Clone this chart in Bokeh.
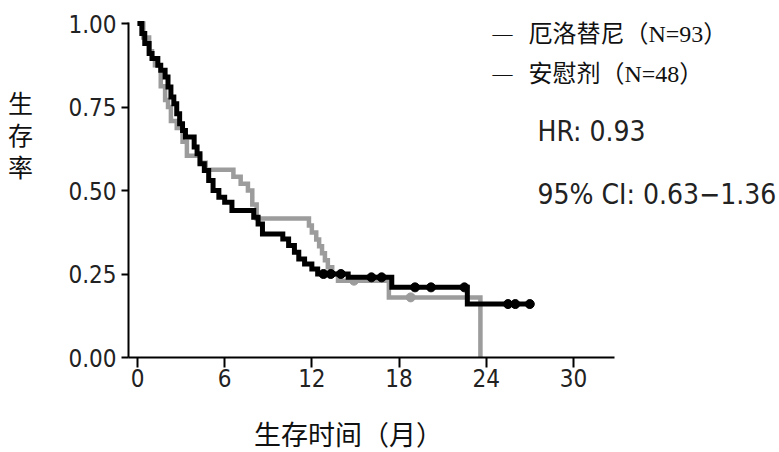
import numpy as np
from bokeh.plotting import figure
from bokeh.models import FixedTicker, Label, Range1d
from bokeh.embed import file_html
from bokeh.resources import INLINE

# ---- data ----
series_names = ["厄洛替尼（N=93）", "安慰剂（N=48）"]

erl_time = [0.0, 0.3, 0.5, 0.8, 1.0, 1.4, 1.6, 1.9, 2.1, 2.3, 2.5, 2.7, 2.9, 3.1, 3.3,
            3.9, 4.1, 4.3, 4.6, 4.9, 5.2, 5.6, 6.0, 6.5, 8.0, 8.3, 8.6, 10.0, 10.4,
            10.8, 11.1, 11.5, 12.0, 12.4, 14.5, 17.5, 22.7]
erl_surv = [1.0, 0.97, 0.94, 0.91, 0.895, 0.875, 0.86, 0.84, 0.81, 0.78, 0.76, 0.73, 0.70,
            0.68, 0.66, 0.63, 0.61, 0.58, 0.56, 0.53, 0.50, 0.48, 0.465, 0.44, 0.42, 0.40,
            0.37, 0.355, 0.335, 0.315, 0.295, 0.28, 0.265, 0.25, 0.24, 0.21, 0.16]
erl_end = 27.0
erl_censor = [12.8, 13.3, 14.0, 16.1, 16.8, 19.1, 20.2, 22.5, 25.5, 26.0, 27.0]

pla_time = [0.0, 0.4, 0.8, 1.0, 1.2, 1.6, 1.9, 2.1, 2.3, 2.7, 3.1, 3.4, 4.3, 4.7, 6.6,
            7.1, 7.6, 7.9, 8.2, 11.8, 12.0, 12.3, 12.5, 12.7, 12.9, 13.1, 13.4, 13.8,
            17.3, 23.6]
pla_surv = [1.0, 0.958, 0.917, 0.896, 0.875, 0.812, 0.771, 0.75, 0.708, 0.687, 0.646,
            0.604, 0.583, 0.562, 0.541, 0.52, 0.50, 0.458, 0.416, 0.395, 0.374, 0.353,
            0.333, 0.312, 0.291, 0.27, 0.25, 0.23, 0.18, 0.0]
pla_censor = [14.9, 18.8]

x_ticks = [0, 6, 12, 18, 24, 30]
y_ticks = [0.0, 0.25, 0.5, 0.75, 1.0]
y_tick_labels = ["0.00", "0.25", "0.50", "0.75", "1.00"]

hr_text = "HR: 0.93"
ci_text = "95% CI: 0.63\u22121.36"
x_title = "生存时间（月）"
y_title = "生\n存\n率"


def surv_at(times, survs, t):
    i = int(np.searchsorted(np.array(times), t, side="right")) - 1
    return survs[i]


NARROW = "DejaVu Sans Condensed, Liberation Sans Narrow, sans-serif"
SERIF = "Liberation Serif, Noto Sans CJK SC, serif"

W, H = 779, 452
PX_X = 14.53      # pixels per month
PX_Y = 334.0      # pixels per unit survival
X0, Y0 = 137, 357 # pixel position of (0, 0)
p = figure(width=W, height=H, output_backend="svg", toolbar_location=None,
           x_range=Range1d(-X0 / PX_X, (W - X0) / PX_X),
           y_range=Range1d((Y0 - H) / PX_Y, Y0 / PX_Y),
           min_border=0)
p.outline_line_color = None
p.grid.grid_line_color = None
p.background_fill_color = "white"
p.border_fill_color = "white"

# placebo (grey) first, erlotinib (black) on top
p.step(pla_time, pla_surv, mode="after", line_color="#9c9c9c", line_width=4.5,
       line_join="miter")
p.scatter(pla_censor, [surv_at(pla_time, pla_surv, t) for t in pla_censor],
          size=9, color="#9c9c9c")

p.step(erl_time + [erl_end], erl_surv + [erl_surv[-1]], mode="after",
       line_color="black", line_width=5, line_join="miter")
p.scatter(erl_censor, [surv_at(erl_time, erl_surv, t) for t in erl_censor],
          size=9, color="black")

# axes (drawn at fixed positions inside the full-canvas frame)
x_axis_start = -0.62
x_axis_end = 32.83
for ax in (p.xaxis[0], p.yaxis[0]):
    ax.axis_line_width = 2
    ax.axis_line_color = "black"
    ax.major_tick_line_width = 2
    ax.major_tick_line_color = "black"
    ax.minor_tick_line_color = None
    ax.major_label_text_font = NARROW
    ax.major_label_text_font_size = "24px"
    ax.major_label_text_color = "#222222"

p.xaxis.fixed_location = 0.0
p.xaxis.ticker = FixedTicker(ticks=x_ticks)
p.xaxis.bounds = (x_axis_start, x_axis_end)
p.xaxis.major_tick_out = 10
p.xaxis.major_tick_in = 0
p.xaxis.major_label_standoff = 1

p.yaxis.fixed_location = x_axis_start
p.yaxis.ticker = FixedTicker(ticks=y_ticks)
p.yaxis.bounds = (0.0, 1.003)
p.yaxis.major_label_overrides = {t: s for t, s in zip(y_ticks, y_tick_labels)}
p.yaxis.major_tick_out = 7
p.yaxis.major_tick_in = 0
p.yaxis.major_label_standoff = 5

# axis titles
p.add_layout(Label(x=(20 - X0) / PX_X, y=(Y0 - 136) / PX_Y, text=y_title,
                   text_align="center", text_baseline="middle", text_font=SERIF,
                   text_font_size="25px", text_color="#111111"))
p.add_layout(Label(x=(348 - X0) / PX_X, y=(Y0 - 435) / PX_Y, text=x_title,
                   text_align="center", text_baseline="middle", text_font=SERIF,
                   text_font_size="27px", text_color="#111111"))

# legend-like texts
for py, name in zip([33, 73], series_names):
    p.add_layout(Label(x=(492 - X0) / PX_X, y=(Y0 - py) / PX_Y, text="\u2014",
                       text_align="left", text_baseline="middle", text_font=SERIF,
                       text_font_size="20px", text_color="#111111"))
    p.add_layout(Label(x=(528 - X0) / PX_X, y=(Y0 - py) / PX_Y, text=name,
                       text_align="left", text_baseline="middle", text_font=SERIF,
                       text_font_size="24px", text_color="#111111"))
p.add_layout(Label(x=(537 - X0) / PX_X, y=(Y0 - 131) / PX_Y, text=hr_text,
                   text_align="left", text_baseline="middle", text_font=NARROW,
                   text_font_size="28px", text_color="#222222"))
p.add_layout(Label(x=(537 - X0) / PX_X, y=(Y0 - 194) / PX_Y, text=ci_text,
                   text_align="left", text_baseline="middle", text_font=NARROW,
                   text_font_size="28px", text_color="#222222"))

open("out.html", "w").write(file_html(p, INLINE))
